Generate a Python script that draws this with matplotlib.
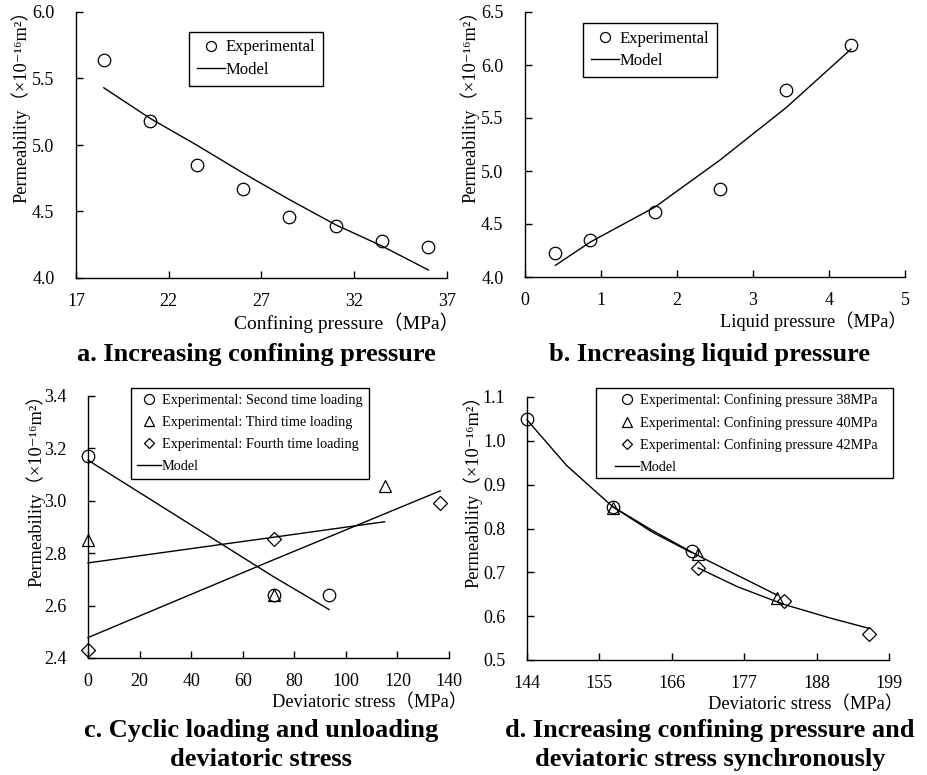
"""Permeability versus stress: four panels, experiment against model."""

import matplotlib

matplotlib.use("Agg")
import matplotlib.pyplot as plt
from matplotlib.patches import Rectangle
from matplotlib.ticker import FormatStrFormatter

plt.rcParams["font.family"] = ["Liberation Serif", "DejaVu Serif", "Noto Sans CJK SC"]

# a. increasing confining pressure
conf_p = [18.5, 21, 23.5, 26, 28.5, 31, 33.5, 36]
conf_exp = [5.64, 5.18, 4.85, 4.67, 4.46, 4.39, 4.28, 4.23]
conf_model = [5.43, 5.20, 5.00, 4.79, 4.59, 4.40, 4.24, 4.06]

# b. increasing liquid pressure
liq_p = [0.40, 0.86, 1.71, 2.56, 3.44, 4.29]
liq_exp = [4.23, 4.35, 4.61, 4.83, 5.76, 6.19]
liq_model = [4.11, 4.33, 4.66, 5.10, 5.60, 6.15]

# c. cyclic loading / unloading of deviatoric stress
cyc2_s = [0, 72, 93.5]
cyc2_exp = [3.17, 2.64, 2.64]
cyc2_model = [3.155, 2.71, 2.585]
cyc3_s = [0, 72, 115]
cyc3_exp = [2.85, 2.64, 3.055]
cyc3_model = [2.763, 2.861, 2.92]
cyc4_s = [0, 72, 136.6]
cyc4_exp = [2.43, 2.855, 2.99]
cyc4_model = [2.478, 2.775, 3.038]

# d. confining pressure and deviatoric stress raised together
d38_s = [144, 157, 169]
d38_exp = [1.05, 0.85, 0.748]
d40_s = [157, 170, 182]
d40_exp = [0.847, 0.741, 0.641]
d42_s = [170, 183, 196]
d42_exp = [0.709, 0.635, 0.559]
d38_model_s = [144, 150, 157, 163, 169]
d38_model = [1.048, 0.944, 0.85, 0.792, 0.745]
d40_model_s = [157, 163, 170, 176, 182]
d40_model = [0.85, 0.796, 0.738, 0.693, 0.648]
d42_model_s = [170, 176, 183, 190, 196]
d42_model = [0.71, 0.667, 0.627, 0.596, 0.572]

YLABEL = "Permeability（×10⁻¹⁶m²）"

W, H = 928, 775
fig = plt.figure(figsize=(W / 100, H / 100), dpi=100)


def add_axes(left, top, right, bottom):
    """Axes from pixel edges."""
    return fig.add_axes([left / W, 1 - bottom / H, (right - left) / W, (bottom - top) / H])


def style(ax, xlim, xticks, ylim, yticks, xlabel, xl_dx, xl_size, ylabel_dx):
    ax.set_xlim(*xlim)
    ax.set_ylim(*ylim)
    ax.set_xticks(xticks)
    ax.set_yticks(yticks)
    ax.yaxis.set_major_formatter(FormatStrFormatter("%.1f"))
    for side in ("top", "right"):
        ax.spines[side].set_visible(False)
    for side in ("left", "bottom"):
        ax.spines[side].set_linewidth(1.0)
    ax.tick_params(direction="in", length=5, width=1.0, labelsize=13)
    ax.tick_params(axis="x", pad=10.5)
    ax.tick_params(axis="y", pad=15.5)
    # the full-width closing bracket leaves blank space at the end of the label,
    # hence the positive offsets
    ax.annotate(xlabel, xy=(1, 0), xycoords="axes fraction", xytext=(xl_dx, -32),
                textcoords="offset points", ha="right", va="center", fontsize=xl_size,
                annotation_clip=False)
    ax.annotate(YLABEL, xy=(0, 1), xycoords="axes fraction", xytext=(ylabel_dx, 8),
                textcoords="offset points", ha="center", va="top", rotation=90,
                fontsize=13.2, annotation_clip=False)


def legend(ax, anchor, size, rows, frame=True, pad=0.45):
    leg = ax.legend(loc="upper left", bbox_to_anchor=anchor, fontsize=size,
                    frameon=frame, fancybox=False, edgecolor="black", framealpha=1,
                    borderaxespad=0, borderpad=pad, handlelength=1.7,
                    handletextpad=0.05, labelspacing=rows, markerscale=0.8)
    leg.get_frame().set_linewidth(1.0)


mk = dict(linestyle="none", mfc="none", mec="black", mew=0.9, clip_on=False)
ln = dict(color="black", lw=1.0, clip_on=False)

# panel a
ax = add_axes(76, 12, 447, 278)
ax.plot(conf_p, conf_exp, marker="o", ms=9, label="Experimental", **mk)
ax.plot(conf_p, conf_model, label="Model", **ln)
style(ax, (17, 37), [17, 22, 27, 32, 37], (4.0, 6.0), [4.0, 4.5, 5.0, 5.5, 6.0],
      "Confining pressure（MPa）", 9, 14, -40)
legend(ax, (0.305, 0.925), 12, 0.4)

# panel b
ax = add_axes(525, 12, 905, 277)
ax.plot(liq_p, liq_exp, marker="o", ms=9, label="Experimental", **mk)
ax.plot(liq_p, liq_model, label="Model", **ln)
style(ax, (0, 5), [0, 1, 2, 3, 4, 5], (4.0, 6.5), [4.0, 4.5, 5.0, 5.5, 6.0, 6.5],
      "Liquid pressure（MPa）", 1.5, 13.2, -40)
legend(ax, (0.153, 0.958), 12, 0.4)

# panel c
ax = add_axes(88, 396, 449, 658)
ax.plot(cyc2_s, cyc2_exp, marker="o", ms=9, label="Experimental: Second time loading", **mk)
ax.plot(cyc3_s, cyc3_exp, marker="^", ms=9, label="Experimental: Third time loading", **mk)
ax.plot(cyc4_s, cyc4_exp, marker="D", ms=7, label="Experimental: Fourth time loading", **mk)
ax.plot(cyc2_s, cyc2_model, label="Model", **ln)
ax.plot(cyc3_s, cyc3_model, **ln)
ax.plot(cyc4_s, cyc4_model, **ln)
style(ax, (0, 140), list(range(0, 141, 20)), (2.4, 3.4), [2.4, 2.6, 2.8, 3.0, 3.2, 3.4],
      "Deviatoric stress（MPa）", 13, 13.2, -38)
legend(ax, (0.119, 1.03), 10.3, 0.62, pad=0.42)

# panel d
ax = add_axes(527, 397, 889, 660)
ax.plot(d38_s, d38_exp, marker="o", ms=9, label="Experimental: Confining pressure 38MPa", **mk)
ax.plot(d40_s, d40_exp, marker="^", ms=9, label="Experimental: Confining pressure 40MPa", **mk)
ax.plot(d42_s, d42_exp, marker="D", ms=7, label="Experimental: Confining pressure 42MPa", **mk)
ax.plot(d38_model_s, d38_model, label="Model", **ln)
ax.plot(d40_model_s, d40_model, **ln)
ax.plot(d42_model_s, d42_model, **ln)
style(ax, (144, 199), [144, 155, 166, 177, 188, 199], (0.5, 1.1),
      [0.5, 0.6, 0.7, 0.8, 0.9, 1.0, 1.1], "Deviatoric stress（MPa）", 10, 13.2, -39)
# this legend sits inset in a wider box, so its frame is drawn separately
legend(ax, (0.243, 1.0146), 10.3, 0.62, frame=False, pad=0)
ax.add_patch(Rectangle((0.1906, 0.692), 1.011 - 0.1906, 1.034 - 0.692,
                       transform=ax.transAxes, fill=False, edgecolor="black",
                       lw=1.0, clip_on=False))

# panel captions
cap = dict(ha="center", va="center", fontsize=19, fontweight="bold", linespacing=1.33)
fig.text(256 / W, 1 - 355 / H, "a. Increasing confining pressure", **cap)
fig.text(710 / W, 1 - 355 / H, "b. Increasing liquid pressure", **cap)
fig.text(261 / W, 1 - 745 / H, "c. Cyclic loading and unloading\ndeviatoric stress", **cap)
fig.text(710 / W, 1 - 745 / H,
         "d. Increasing confining pressure and\ndeviatoric stress synchronously", **cap)

fig.savefig("out.png", dpi=100)
plt.close(fig)
